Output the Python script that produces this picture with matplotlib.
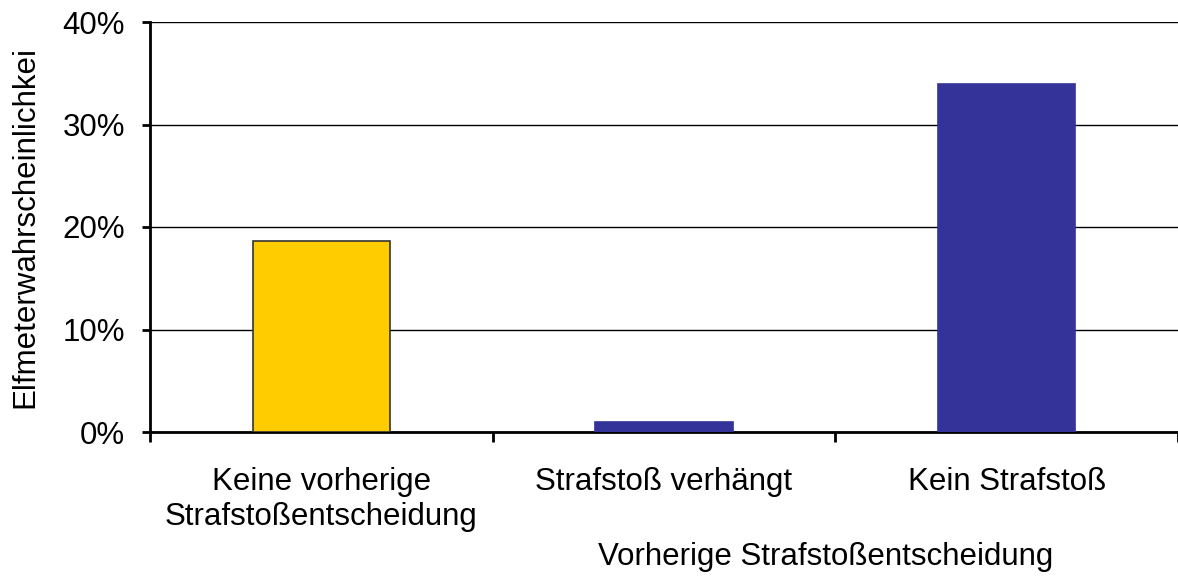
import matplotlib
matplotlib.use("Agg")
import matplotlib.pyplot as plt
from matplotlib.ticker import FixedLocator, FuncFormatter

plt.rcParams["font.family"] = ["Liberation Sans", "DejaVu Sans"]

categories = ["Keine vorherige\nStrafstoßentscheidung", "Strafstoß verhängt", "Kein Strafstoß"]
values = [18.6, 1.0, 34.0]
colors = ["#FFCC00", "#333399", "#333399"]
edges = ["#333333", "#333399", "#333399"]

y_label = "Elfmeterwahrscheinlichkei"
x_label = "Vorherige Strafstoßentscheidung"

FS = 22.5

fig = plt.figure(figsize=(11.78, 5.83), dpi=100)
ax = fig.add_axes([150 / 1178, 151 / 583, 1028 / 1178, 410 / 583])

pos = list(range(len(categories)))
ax.bar(pos, values, width=0.4, color=colors, edgecolor=edges, linewidth=1.2, zorder=3)

ax.set_xlim(-0.5, 2.5)
ax.set_ylim(0, 40)
ax.set_yticks([0, 10, 20, 30, 40])
ax.yaxis.set_major_formatter(FuncFormatter(lambda v, _: f"{v:.0f}%"))
ax.yaxis.grid(True, color="black", linewidth=1.0, zorder=0)
ax.set_axisbelow(True)

ax.set_xticks(pos)
ax.set_xticklabels(categories, fontsize=FS, linespacing=1.25)
ax.xaxis.set_minor_locator(FixedLocator([-0.5, 0.5, 1.5, 2.5]))
ax.tick_params(axis="x", which="major", length=0, pad=25)
ax.tick_params(axis="x", which="minor", length=7, width=2, direction="out")
ax.tick_params(axis="y", length=6, width=2, direction="out", labelsize=FS, pad=12)

for s in ["top", "right"]:
    ax.spines[s].set_visible(False)
for s in ["left", "bottom"]:
    ax.spines[s].set_linewidth(2)

ax.set_ylabel(y_label, fontsize=FS, va="center")
ax.yaxis.set_label_coords((25 - 150) / 1028, 0.5)
ax.set_xlabel(x_label, fontsize=FS)
ax.xaxis.set_label_coords((826 - 150) / 1028, -0.268)

fig.savefig("out.png", dpi=100)
